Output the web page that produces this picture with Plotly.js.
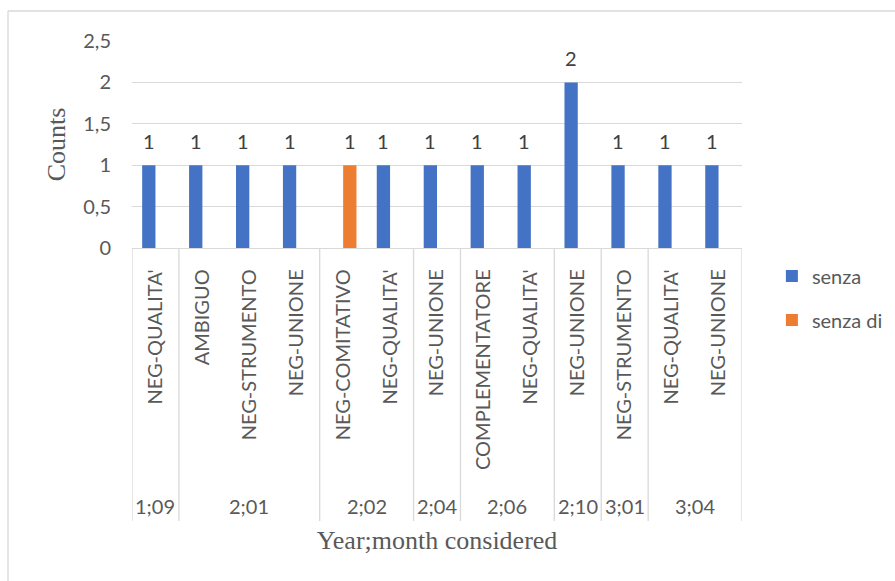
<!DOCTYPE html>
<html>
<head>
<meta charset="utf-8">
<script src="https://cdn.plot.ly/plotly-3.0.1.min.js"></script>
<style>html,body{margin:0;padding:0;background:#fff;}#chart{width:895px;height:581px;}</style>
</head>
<body>
<div id="chart"></div>
<script>
// ---- data ----
const categories = ["NEG-QUALITA'", "AMBIGUO", "NEG-STRUMENTO", "NEG-UNIONE", "NEG-COMITATIVO", "NEG-QUALITA'", "NEG-UNIONE", "COMPLEMENTATORE", "NEG-QUALITA'", "NEG-UNIONE", "NEG-STRUMENTO", "NEG-QUALITA'", "NEG-UNIONE"];
const periods = ["1;09", "2;01", "2;01", "2;01", "2;02", "2;02", "2;04", "2;06", "2;06", "2;10", "3;01", "3;04", "3;04"];
const senza = [1, 1, 1, 1, null, 1, 1, 1, 1, 2, 1, 1, 1];
const senzaDi = [null, null, null, null, 1, null, null, null, null, null, null, null, null];
const seriesNames = ["senza", "senza di"];
const yTicks = [0, 0.5, 1, 1.5, 2, 2.5];

// ---- styling ----
const sansFont = "Lato, 'Open Sans', sans-serif";
const serifFont = "'Liberation Serif', 'DejaVu Serif', serif";
const grey = "#595959";
const lineGrey = "#d9d9d9";
const plotH = 207;            // px height of plot area
const plotW = 610;            // px width of plot area
const yPx = px => -(px) / plotH;  // px below axis -> paper y

const idx = categories.map((_, i) => i);

const traces = [
  {type: 'bar', name: seriesNames[0], x: idx, y: senza, marker: {color: '#4472C4'}, legendgroup: 'a', hoverinfo: 'y'},
  {type: 'bar', name: seriesNames[1], x: idx, y: senzaDi, marker: {color: '#ED7D31'}, legendgroup: 'b', hoverinfo: 'y'}
];

const annotations = [];
const barHalf = 6.65;
[senza, senzaDi].forEach((series, s) => {
  series.forEach((v, i) => {
    if (v === null) return;
    annotations.push({
      x: i, y: v, xref: 'x', yref: 'y', text: String(v), showarrow: false,
      xshift: s === 0 ? -barHalf : barHalf, yshift: 24, yanchor: 'middle',
      font: {family: sansFont, size: 20, color: '#404040'}
    });
  });
});

// group labels and dividers from periods
const shapes = [];
const groups = [];
periods.forEach((p, i) => {
  if (groups.length && groups[groups.length - 1].label === p) groups[groups.length - 1].end = i;
  else groups.push({label: p, start: i, end: i});
});
const divBottom = yPx(273);
groups.forEach(g => {
  annotations.push({
    x: (g.start + g.end) / 2, y: yPx(258), xref: 'x', yref: 'paper', text: g.label,
    showarrow: false, yanchor: 'middle', font: {family: sansFont, size: 20, color: grey}
  });
  shapes.push({type: 'line', xref: 'x', yref: 'paper', x0: g.start - 0.5, x1: g.start - 0.5, y0: 0, y1: divBottom, line: {color: lineGrey, width: 1.3}});
});
shapes.push({type: 'line', xref: 'x', yref: 'paper', x0: categories.length - 0.5, x1: categories.length - 0.5, y0: 0, y1: divBottom, line: {color: lineGrey, width: 1.3}});

// chart border (left and top visible)
shapes.push({type: 'line', xref: 'paper', yref: 'paper', x0: -124 / plotW, x1: -124 / plotW, y0: 237 / plotH, y1: -1.8, line: {color: lineGrey, width: 1.3}});
shapes.push({type: 'line', xref: 'paper', yref: 'paper', x0: -124 / plotW, x1: 1.4, y0: 237 / plotH, y1: 237 / plotH, line: {color: lineGrey, width: 1.3}});

const layout = {
  width: 895, height: 581,
  margin: {l: 132, r: 153, t: 41, b: 333, autoexpand: false},
  paper_bgcolor: '#fff', plot_bgcolor: '#fff',
  separators: ', ',
  barmode: 'group', bargap: 0.433, bargroupgap: 0,
  showlegend: true,
  legend: {x: 1.049, xanchor: 'left', y: -0.041, yanchor: 'top', traceorder: 'grouped', tracegroupgap: 15,
           font: {family: sansFont, size: 20, color: grey}, bgcolor: 'rgba(0,0,0,0)'},
  xaxis: {
    type: 'linear', range: [-0.5, categories.length - 0.5], tickmode: 'array', tickvals: idx, ticktext: categories,
    tickangle: -90, tickfont: {family: sansFont, size: 20, color: grey}, ticks: '', showgrid: false, zeroline: false,
    showline: true, linecolor: lineGrey, linewidth: 1.3, ticklabelstandoff: 12, automargin: false,
    title: {text: 'Year;month considered', font: {family: serifFont, size: 26, color: grey}, standoff: 61}
  },
  yaxis: {
    range: [0, 2.5], tickmode: 'array', tickvals: yTicks, tickformat: '.1~f',
    tickfont: {family: sansFont, size: 20, color: grey}, ticks: '', ticklabelstandoff: 20,
    showgrid: true, gridcolor: lineGrey, gridwidth: 1.3, zeroline: false, showline: false, automargin: false,
    title: {text: 'Counts', font: {family: serifFont, size: 26, color: grey}, standoff: 10}
  },
  annotations: annotations,
  shapes: shapes
};

Plotly.newPlot('chart', traces, layout, {displayModeBar: false, staticPlot: true});
</script>
</body>
</html>
